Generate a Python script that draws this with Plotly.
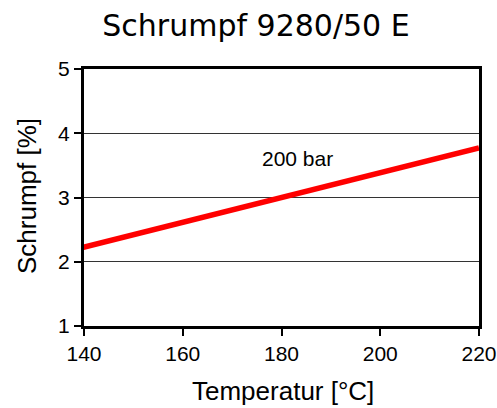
import plotly.graph_objects as go

# Shrinkage vs. melt temperature at 200 bar
temperature_c = [138.6, 220]
schrumpf_pct = [2.20, 3.77]
x_ticks = [140, 160, 180, 200, 220]
y_ticks = [1, 2, 3, 4, 5]
series_label = "200 bar"

W, H = 497, 408
ML, MR, MT, MB = 84, 18, 69, 82

fig = go.Figure()
fig.add_trace(go.Scatter(
    x=temperature_c, y=schrumpf_pct, mode="lines",
    line=dict(color="#ff0000", width=5.5),
    cliponaxis=False, showlegend=False, hoverinfo="skip",
))

sans = "Liberation Sans, Arial"
fig.add_annotation(
    x=183.3, y=3.61, text=series_label, showarrow=False,
    font=dict(family=sans, size=21, color="black"),
)

# axis titles placed in paper pixels
fig.add_annotation(
    xref="paper", yref="paper", x=(283 - ML) / (W - ML - MR),
    y=-(391 - (H - MB)) / (H - MT - MB), xanchor="center", yanchor="middle",
    text="Temperatur [°C]", showarrow=False,
    font=dict(family=sans, size=26, color="black"),
)
fig.add_annotation(
    xref="paper", yref="paper", x=-(ML - 27) / (W - ML - MR),
    y=((H - MB) - 196) / (H - MT - MB), xanchor="center", yanchor="middle",
    text="Schrumpf [%]", textangle=-90, showarrow=False,
    font=dict(family=sans, size=26, color="black"),
)

axis_font = dict(family=sans, size=21, color="black")
fig.update_layout(
    width=W, height=H,
    margin=dict(l=ML, r=MR, t=MT, b=MB, autoexpand=False),
    paper_bgcolor="white", plot_bgcolor="white",
    title=dict(
        text="Schrumpf 9280/50 E", x=256 / W, xanchor="center",
        y=1 - 25 / H, yanchor="middle",
        font=dict(family="DejaVu Sans, Verdana", size=30, color="black"),
    ),
    xaxis=dict(
        range=[140, 220], tickvals=x_ticks, ticks="outside", ticklen=7,
        tickwidth=2, tickcolor="black", showline=True, linecolor="black",
        linewidth=3, mirror=True, showgrid=False, zeroline=False,
        tickfont=axis_font, automargin=False,
    ),
    yaxis=dict(
        range=[1, 5], tickvals=y_ticks, ticks="outside", ticklen=7,
        tickwidth=2, tickcolor="black", showline=True, linecolor="black",
        linewidth=3, mirror=True, showgrid=True, gridcolor="#333333",
        gridwidth=1, zeroline=False, tickfont=axis_font, automargin=False,
    ),
)

fig.write_html("out.html")
